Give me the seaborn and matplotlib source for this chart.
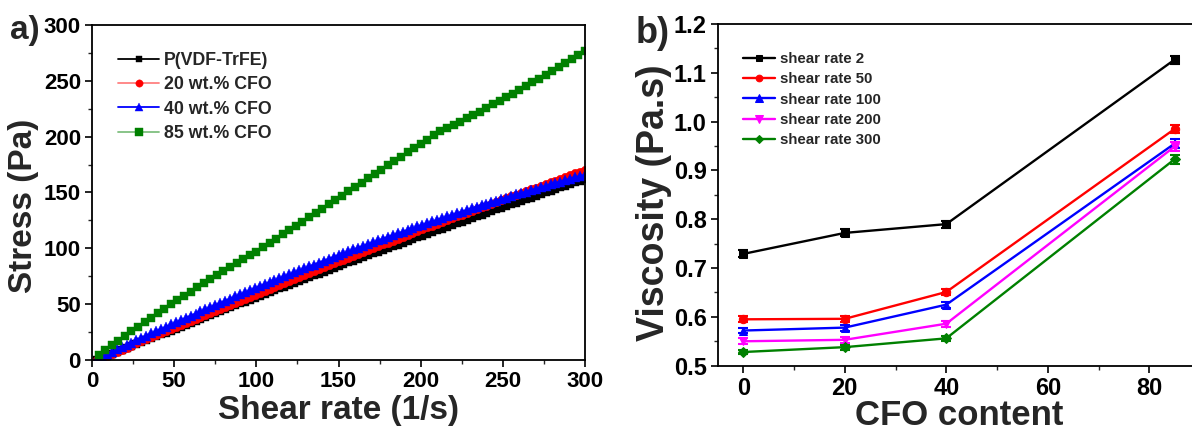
import numpy as np
import matplotlib
matplotlib.use("Agg")
import matplotlib.pyplot as plt
import seaborn as sns
from matplotlib.ticker import MultipleLocator

# ---------------- data: panel a (stress vs shear rate) ----------------
shear_rate = np.arange(3, 301, 3)          # instrument sampling grid (1/s)
shear_rate_85 = np.arange(4, 301, 4)

stress_pvdf = [0.0, 1.6, 3.4, 5.2, 7.0, 8.7, 10.5, 12.3, 14.1, 15.8,
               17.6, 19.4, 21.1, 22.9, 24.6, 26.4, 28.1, 29.9, 31.6, 33.4,
               35.1, 36.8, 38.6, 40.3, 42.0, 43.7, 45.4, 47.1, 48.9, 50.6,
               52.3, 54.0, 55.7, 57.4, 59.0, 60.7, 62.4, 64.1, 65.8, 67.4,
               69.1, 70.8, 72.4, 74.1, 75.8, 77.4, 79.1, 80.7, 82.4, 84.0,
               85.6, 87.3, 88.9, 90.5, 92.2, 93.8, 95.4, 97.0, 98.6, 100.2,
               101.8, 103.4, 105.0, 106.6, 108.2, 109.8, 111.4, 113.0, 114.6, 116.2,
               117.7, 119.3, 120.9, 122.4, 124.0, 125.5, 127.1, 128.7, 130.2, 131.7,
               133.3, 134.8, 136.4, 137.9, 139.4, 141.0, 142.5, 144.0, 145.5, 147.0,
               148.5, 150.0, 151.5, 153.0, 154.5, 156.0, 157.5, 159.0, 160.5, 162.0]

stress_20 = [0.0, 1.7, 3.6, 5.5, 7.4, 9.1, 11.0, 12.9, 14.8, 16.6,
             18.5, 20.4, 22.2, 24.0, 25.8, 27.7, 29.5, 31.4, 33.2, 35.1,
             36.9, 38.6, 40.5, 42.3, 44.1, 45.9, 47.7, 49.5, 51.3, 53.1,
             54.9, 56.7, 58.5, 60.3, 62.0, 63.7, 65.5, 67.3, 69.1, 70.8,
             72.6, 74.3, 76.0, 77.8, 79.6, 81.3, 83.1, 84.7, 86.5, 88.2,
             89.9, 91.7, 93.3, 95.0, 96.8, 98.5, 100.2, 101.9, 103.5, 105.2,
             106.9, 108.6, 110.3, 111.9, 113.6, 115.3, 117.0, 118.7, 120.3, 122.0,
             123.6, 125.3, 126.9, 128.5, 130.2, 131.8, 133.5, 135.1, 136.7, 138.3,
             140.0, 141.5, 143.2, 144.8, 146.4, 148.1, 149.6, 151.2, 152.8, 154.4,
             155.9, 157.5, 159.1, 160.7, 162.2, 163.8, 165.4, 167.0, 168.5, 170.1]

stress_40 = [1.0, 3.1, 5.2, 7.3, 9.4, 11.5, 13.6, 15.6, 17.7, 19.7,
             21.8, 23.8, 25.8, 27.8, 29.8, 31.8, 33.8, 35.8, 37.7, 39.7,
             41.6, 43.6, 45.5, 47.4, 49.3, 51.2, 53.1, 55.0, 56.9, 58.7,
             60.6, 62.4, 64.3, 66.1, 67.9, 69.7, 71.5, 73.3, 75.1, 76.8,
             78.6, 80.3, 82.1, 83.8, 85.5, 87.2, 88.9, 90.6, 92.3, 94.0,
             95.7, 97.3, 99.0, 100.6, 102.2, 103.9, 105.5, 107.1, 108.7, 110.2,
             111.8, 113.4, 114.9, 116.5, 118.0, 119.6, 121.1, 122.6, 124.1, 125.6,
             127.1, 128.5, 130.0, 131.4, 132.9, 134.3, 135.8, 137.2, 138.6, 140.0,
             141.4, 142.7, 144.1, 145.5, 146.8, 148.2, 149.5, 150.8, 152.1, 153.4,
             154.7, 156.0, 157.3, 158.6, 159.8, 161.1, 162.3, 163.6, 164.8, 166.0]

stress_85 = [4.4, 8.7, 13.0, 17.3, 21.5, 25.6, 29.8, 33.9, 37.9, 41.9,
             45.9, 49.8, 53.7, 57.5, 61.3, 65.1, 68.8, 72.5, 76.1, 79.7,
             83.2, 86.7, 90.2, 93.6, 97.0, 100.9, 104.7, 108.6, 112.4, 116.3,
             120.2, 124.0, 127.9, 131.8, 135.6, 139.5, 143.3, 147.2, 151.1, 154.9,
             158.8, 162.6, 166.5, 170.4, 174.2, 178.1, 181.9, 185.8, 189.7, 193.5,
             197.4, 201.2, 205.1, 207.5, 210.5, 213.5, 216.5, 219.5, 222.5, 225.8,
             229.0, 232.2, 235.4, 238.6, 241.9, 245.2, 248.6, 252.0, 255.4, 258.8,
             262.3, 265.8, 269.3, 272.8, 276.3]

labels_a = ["P(VDF-TrFE)", "20 wt.% CFO", "40 wt.% CFO", "85 wt.% CFO"]

# ---------------- data: panel b (viscosity vs CFO content) ----------------
cfo_content = [0, 20, 40, 85]
visc_2 = [0.729, 0.772, 0.790, 1.127]
visc_50 = [0.595, 0.596, 0.651, 0.985]
visc_100 = [0.572, 0.578, 0.625, 0.955]
visc_200 = [0.550, 0.553, 0.586, 0.949]
visc_300 = [0.528, 0.538, 0.556, 0.923]
err_2 = [0.007, 0.007, 0.007, 0.008]
err_50 = [0.006, 0.006, 0.006, 0.009]
err_100 = [0.006, 0.006, 0.006, 0.010]
err_200 = [0.006, 0.006, 0.006, 0.010]
err_300 = [0.005, 0.005, 0.005, 0.009]
labels_b = ["shear rate 2", "shear rate 50", "shear rate 100",
            "shear rate 200", "shear rate 300"]

# ---------------- style ----------------
sns.set_theme(style="ticks")
plt.rcParams["font.family"] = ["Liberation Sans", "DejaVu Sans"]
plt.rcParams["font.weight"] = "bold"
plt.rcParams["axes.labelweight"] = "bold"

fig = plt.figure(figsize=(11.92, 4.32), dpi=100)
axa = fig.add_axes([0.0772, 0.1667, 0.4136, 0.7755])
axb = fig.add_axes([0.6023, 0.1535, 0.4044, 0.7910])

# ---------------- panel a ----------------
series_a = [
    (shear_rate, stress_pvdf, "black", "black", "s", 5.6),
    (shear_rate, stress_20, "red", "#ff8080", "o", 6.2),
    (shear_rate, stress_40, "blue", "blue", "^", 6.6),
    (shear_rate_85, stress_85, "#008000", "#7fbf7f", "s", 6.0),
]
for (xs, ys, mc, lc, mk, ms), lab in zip(series_a, labels_a):
    sns.lineplot(x=xs, y=ys, ax=axa, color=lc, marker=mk, markersize=ms,
                 markerfacecolor=mc, markeredgecolor=mc, markeredgewidth=0.3,
                 linewidth=1.3, label=lab, sort=False, estimator=None)

axa.set_xlim(0, 300)
axa.set_ylim(0, 300)
axa.xaxis.set_major_locator(MultipleLocator(50))
axa.xaxis.set_minor_locator(MultipleLocator(25))
axa.yaxis.set_major_locator(MultipleLocator(50))
axa.yaxis.set_minor_locator(MultipleLocator(25))
axa.set_xlabel("Shear rate (1/s)", fontsize=24, fontweight="bold")
axa.set_ylabel("Stress (Pa)", fontsize=24, fontweight="bold")
axa.xaxis.set_label_coords(0.5, -0.105)
axa.yaxis.set_label_coords(-0.108, 0.46)
axa.legend(loc="upper left", bbox_to_anchor=(0.053, 0.92), frameon=False,
           handlelength=2.3, handletextpad=0.3, markerscale=0.85,
           labelspacing=0.42, borderpad=0, borderaxespad=0,
           prop={"weight": "bold", "size": 12.8})

# ---------------- panel b ----------------
series_b = [
    (visc_2, err_2, "black", "s", 5.6),
    (visc_50, err_50, "#ff0000", "o", 6.0),
    (visc_100, err_100, "#0000ff", "^", 6.4),
    (visc_200, err_200, "#ff00ff", "v", 6.4),
    (visc_300, err_300, "#008000", "D", 4.8),
]
for (ys, es, c, mk, ms), lab in zip(series_b, labels_b):
    axb.errorbar(cfo_content, ys, yerr=es, fmt="none", ecolor=c,
                 elinewidth=1.5, capsize=3.5, capthick=1.5)
    sns.lineplot(x=cfo_content, y=ys, ax=axb, color=c, marker=mk,
                 markersize=ms, markeredgecolor=c, markerfacecolor=c,
                 linewidth=1.7, label=lab, sort=False, estimator=None)

axb.set_xlim(-5, 90)
axb.set_ylim(0.5, 1.2)
axb.xaxis.set_major_locator(MultipleLocator(20))
axb.xaxis.set_minor_locator(MultipleLocator(10))
axb.yaxis.set_major_locator(MultipleLocator(0.1))
axb.yaxis.set_minor_locator(MultipleLocator(0.05))
axb.yaxis.set_major_formatter(matplotlib.ticker.FormatStrFormatter("%.1f"))
axb.set_xlabel("CFO content", fontsize=25, fontweight="bold")
axb.set_ylabel("Viscosity (Pa.s)", fontsize=27, fontweight="bold")
axb.xaxis.set_label_coords(0.5, -0.098)
axb.yaxis.set_label_coords(-0.095, 0.477)
axb.legend(loc="upper left", bbox_to_anchor=(0.052, 0.918), frameon=False,
           handlelength=2.15, handletextpad=0.3, labelspacing=0.42,
           markerscale=0.8, borderpad=0, borderaxespad=0,
           prop={"weight": "bold", "size": 10.8})

for ax, fs in ((axa, 16), (axb, 17)):
    for s in ax.spines.values():
        s.set_linewidth(1.3)
        s.set_color("black")
    ax.tick_params(which="major", direction="out", length=5, width=1.2,
                   labelsize=fs, colors="black", pad=3)
    ax.tick_params(which="minor", direction="out", length=3, width=1.0)
    for t in ax.get_xticklabels() + ax.get_yticklabels():
        t.set_fontweight("bold")

fig.text(0.0084, 0.930, "a)", fontsize=24, fontweight="bold", va="center", ha="left")
fig.text(0.533, 0.922, "b)", fontsize=26, fontweight="bold", va="center", ha="left")

fig.savefig("out.png", dpi=100)
